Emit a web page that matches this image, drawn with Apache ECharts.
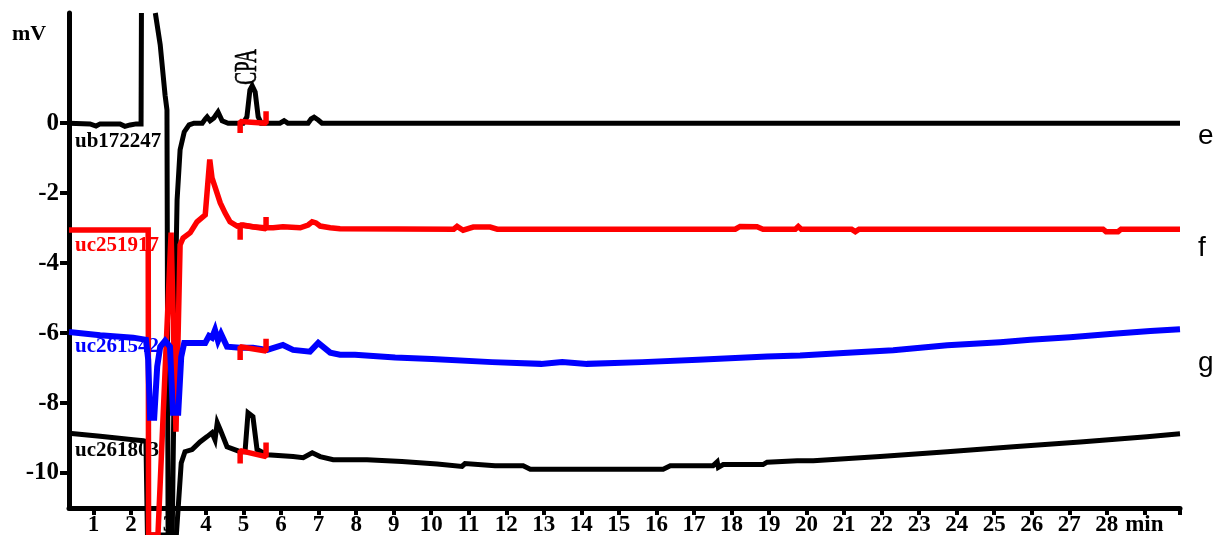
<!DOCTYPE html>
<html>
<head>
<meta charset="utf-8">
<script src="https://cdn.jsdelivr.net/npm/echarts@6/dist/echarts.min.js"></script>
<style>
html,body{margin:0;padding:0;background:#fff;}
#c{width:1213px;height:535px;}
</style>
</head>
<body>
<div id="c"></div>
<script>
// ---- Data (time in min, signal in mV); '-' = trace leaves the visible top ----
const eTime = [0.35,0.91,1.07,1.18,1.71,1.84,1.98,2.14,2.27,2.28,2.46,2.65,2.78,2.91,2.96,2.99,3.10,3.18,3.23,3.31,3.42,3.55,3.68,3.90,3.98,4.03,4.11,4.21,4.32,4.43,4.59,4.99,5.09,5.17,5.23,5.31,5.39,5.47,5.97,6.08,6.18,6.72,6.80,6.88,6.99,7.09,29.95];
const eMv   = [0,-0.02,-0.08,-0.02,-0.02,-0.09,-0.05,-0.02,-0.02,3.15,'-',3.15,2.24,0.80,0.38,-11.77,-11.77,-5.05,-2.19,-0.76,-0.25,-0.05,0,0,0.12,0.18,0.07,0.15,0.32,0.07,0,0,0.18,0.95,1.07,0.89,0.18,0,0,0.07,0,0,0.12,0.17,0.09,0,0];

const fTime = [0.35,2.46,2.47,2.72,3.07,3.20,3.31,3.39,3.58,3.76,3.98,4.10,4.16,4.24,4.38,4.51,4.64,4.83,4.99,5.25,5.57,5.79,6.05,6.51,6.72,6.83,6.93,7.04,7.31,7.57,10.60,10.69,10.85,11.12,11.57,11.76,18.10,18.23,18.68,18.84,19.70,19.78,19.86,21.20,21.30,21.40,27.90,27.98,28.30,28.38,29.95];
const fMv   = [-3.05,-3.05,-11.77,-11.77,-3.13,-8.82,-3.48,-3.28,-3.13,-2.82,-2.62,-1.04,-1.56,-1.82,-2.28,-2.57,-2.82,-2.94,-2.91,-2.96,-2.99,-2.99,-2.96,-2.99,-2.91,-2.82,-2.85,-2.94,-2.99,-3.02,-3.03,-2.95,-3.06,-2.97,-2.97,-3.03,-3.03,-2.95,-2.96,-3.03,-3.03,-2.95,-3.03,-3.03,-3.10,-3.03,-3.03,-3.10,-3.10,-3.03,-3.03];

const gTime = [0.35,1.18,2.06,2.40,2.46,2.51,2.62,2.70,2.78,2.91,3.04,3.12,3.26,3.34,3.42,3.98,4.08,4.16,4.24,4.32,4.40,4.56,4.91,5.25,5.63,6.05,6.32,6.77,6.99,7.31,7.57,7.97,9.04,10.02,11.62,12.93,13.49,14.15,15.62,17.11,18.10,18.95,19.83,20.98,22.31,23.75,25.16,25.96,27.02,28.17,29.16,29.95];
const gMv   = [-5.97,-6.06,-6.13,-6.19,-6.76,-8.42,-8.42,-6.96,-6.39,-6.22,-6.39,-8.28,-8.28,-6.68,-6.28,-6.28,-6.08,-6.13,-5.91,-6.22,-6.02,-6.39,-6.42,-6.42,-6.48,-6.34,-6.48,-6.53,-6.28,-6.56,-6.62,-6.62,-6.70,-6.74,-6.83,-6.88,-6.83,-6.88,-6.83,-6.76,-6.71,-6.67,-6.64,-6.57,-6.49,-6.35,-6.26,-6.19,-6.12,-6.02,-5.94,-5.89];

const hTime = [0.35,1.18,2.06,2.33,2.40,2.44,3.21,3.34,3.44,3.63,3.84,4.03,4.16,4.24,4.30,4.38,4.56,4.91,5.04,5.12,5.25,5.36,5.63,6.32,6.59,6.83,7.04,7.39,8.29,9.22,10.16,10.82,10.90,11.70,12.45,12.64,16.18,16.37,17.51,17.62,17.65,17.78,18.84,18.95,19.75,20.18,21.96,23.75,25.51,27.29,29.07,29.95];
const hMv   = [-8.86,-8.95,-9.05,-9.08,-9.10,-11.77,-11.77,-9.71,-9.39,-9.33,-9.11,-8.96,-8.85,-9.05,-8.56,-8.76,-9.25,-9.39,-9.39,-8.28,-8.39,-9.33,-9.48,-9.53,-9.56,-9.42,-9.53,-9.62,-9.62,-9.67,-9.74,-9.81,-9.73,-9.79,-9.79,-9.89,-9.89,-9.79,-9.79,-9.68,-9.84,-9.76,-9.76,-9.69,-9.65,-9.65,-9.53,-9.39,-9.25,-9.11,-8.96,-8.88];

// integration markers: start / end time of the CPA window, and per trace
// [start tick low, baseline start, baseline end, end tick high]
const markTimes = [4.91, 5.60];
const eMarks = [-0.28, 0.05, 0.0, 0.34];
const fMarks = [-3.33, -2.91, -3.02, -2.68];
const gMarks = [-6.77, -6.39, -6.51, -6.16];
const hMarks = [-9.73, -9.36, -9.53, -9.13];

const traceNames = ['ub172247','uc251917','uc261542','uc261803'];
const sideLabels = ['e','f','g'];
const xTickValues = [1,2,3,4,5,6,7,8,9,10,11,12,13,14,15,16,17,18,19,20,21,22,23,24,25,26,27,28,29,29.95];
const xLabelValues = [1,2,3,4,5,6,7,8,9,10,11,12,13,14,15,16,17,18,19,20,21,22,23,24,25,26,27,28,29];
const yTickValues = [0,-2,-4,-6,-8,-10];

// ---- Chart ----
const chart = echarts.init(document.getElementById('c'), null, {renderer:'canvas'});
const serif = '"Liberation Serif", "Times New Roman", serif';

function trace(name, times, vals, color, width, z){
  return {type:'line', name, data: times.map((t,i)=>[t, vals[i]]), symbol:'none', showSymbol:false,
    clip:false, silent:true, z, connectNulls:false, lineStyle:{color, width, join:'miter', miterLimit:4}, animation:false};
}
function marks(name, v){
  const d = [[markTimes[0], v[0]], [markTimes[0], v[1]], [markTimes[1], v[2]], [markTimes[1], v[3]]];
  return {type:'line', name, data:d, symbol:'none', showSymbol:false, clip:false, silent:true, z:10,
    lineStyle:{color:'#ff0000', width:5.5}, animation:false};
}

const option = {
  animation:false,
  backgroundColor:'#ffffff',
  grid:{left:69, top:13, width:1111, height:495, containLabel:false, outerBoundsMode:'none'},
  xAxis:{
    type:'value', min:0.35, max:29.95,
    axisLine:{show:true, onZero:false, lineStyle:{color:'#000', width:5}},
    axisTick:{show:true, customValues:xTickValues, length:7, lineStyle:{color:'#000', width:4}},
    axisLabel:{customValues:xLabelValues, color:'#000', fontFamily:serif, fontWeight:'bold', fontSize:23, margin:6,
      formatter:(v)=> v===29 ? 'min' : String(v)},
    splitLine:{show:false}
  },
  yAxis:{
    type:'value', min:-11, max:3.15,
    axisLine:{show:true, onZero:false, lineStyle:{color:'#000', width:5}},
    axisTick:{show:true, customValues:yTickValues, length:9, lineStyle:{color:'#000', width:4}},
    axisLabel:{customValues:yTickValues, color:'#000', fontFamily:serif, fontWeight:'bold', fontSize:25, margin:10,
      formatter:(v)=>String(v)},
    splitLine:{show:false}
  },
  graphic:[
    {type:'text', z:0, x:12, y:34, style:{text:'mV', font:'bold 22px '+serif, fill:'#000', textVerticalAlign:'middle'}},
    {type:'text', z:0, x:75, y:142, style:{text:traceNames[0], font:'bold 21px '+serif, fill:'#000', textVerticalAlign:'middle'}},
    {type:'text', z:0, x:75, y:246, style:{text:traceNames[1], font:'bold 21px '+serif, fill:'#ff0000', textVerticalAlign:'middle'}},
    {type:'text', z:0, x:75, y:347, style:{text:traceNames[2], font:'bold 21px '+serif, fill:'#0000ff', textVerticalAlign:'middle'}},
    {type:'text', z:0, x:75, y:451, style:{text:traceNames[3], font:'bold 21px '+serif, fill:'#000', textVerticalAlign:'middle'}},
    {type:'text', z:0, x:248, y:67, rotation:Math.PI/2, scaleX:0.62,
      style:{text:'CPA', font:'31px '+serif, fill:'#000', textAlign:'center', textVerticalAlign:'middle', stroke:'#000', lineWidth:0.6}},
    {type:'text', z:0, x:1198, y:136, style:{text:sideLabels[0], font:'28px "Liberation Sans", Arial, sans-serif', fill:'#000', textVerticalAlign:'middle'}},
    {type:'text', z:0, x:1198, y:248, style:{text:sideLabels[1], font:'28px "Liberation Sans", Arial, sans-serif', fill:'#000', textVerticalAlign:'middle'}},
    {type:'text', z:0, x:1198, y:363, style:{text:sideLabels[2], font:'28px "Liberation Sans", Arial, sans-serif', fill:'#000', textVerticalAlign:'middle'}}
  ],
  series:[
    trace('h', hTime, hMv, '#000000', 5, 3),
    trace('e', eTime, eMv, '#000000', 5, 4),
    trace('f', fTime, fMv, '#ff0000', 5.5, 5),
    trace('g', gTime, gMv, '#0000ff', 6, 6),
    marks('em', eMarks), marks('fm', fMarks), marks('gm', gMarks), marks('hm', hMarks)
  ]
};
chart.setOption(option);
</script>
</body>
</html>
